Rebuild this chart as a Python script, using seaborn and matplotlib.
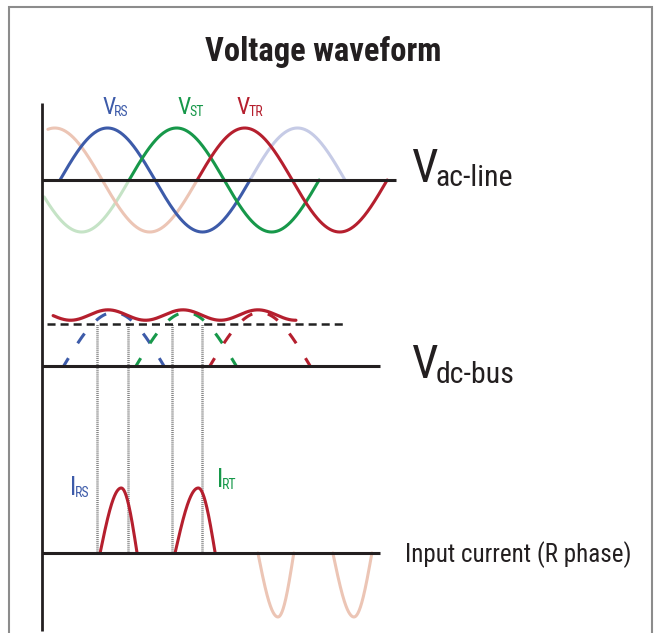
import numpy as np
import pandas as pd
import matplotlib.pyplot as plt
import seaborn as sns
from matplotlib import font_manager
from matplotlib.patches import Rectangle

# x is electrical angle in degrees, y is per-unit (1 pu = sine amplitude)
PHASES = ['RS', 'ST', 'TR']
phase_colors = ['#3d5ba9', '#17984a', '#b51f2e']
fade_colors = ['#c6cbe6', '#c5e3c6', '#ecc5b5']

# top panel: line voltages, rising zero crossing of the bold cycle
v_zero = [0, 131, 260]
# faded continuation of each wave
fade_from = [360, -30, -23]
fade_to = [540, 131, 260]

# middle panel: rectified dc bus
arc_center = [102, 239, 379]
arc_halfwidth = [95, 95, 95]
arc_height = 1.03
dc_ref_level = 0.81
dc_ref_span = [-25, 544]
ripple_span = [-13, 447]
ripple_mean = 0.98
ripple_amp = 0.10
ripple_period = 142
ripple_peak = 91

# bottom panel: R phase input current pulses
pulse_start = [76, 218, 375, 517]
pulse_peak = [116, 262, 413, 557]
pulse_end = [146, 294, 443, 591]
pulse_height = [1.25, 1.25, -1.23, -1.23]
pulse_faded = [False, False, True, True]
conduction_edges = [70, 129, 212, 269]

# panel baselines
panel_base = [0, -3.577, -7.173]
panel_end = [637, 606, 606]
axis_x = -34
axis_top, axis_bottom = 1.48, -8.67

INK = '#231f20'

available = {f.name for f in font_manager.fontManager.ttflist}
FONT = next((f for f in ['Liberation Sans Narrow', 'Roboto Condensed',
                         'Open Sans Condensed', 'Roboto'] if f in available),
            'DejaVu Sans')

sns.set_theme(style='white')
plt.rcParams['font.family'] = [FONT, 'DejaVu Sans']
plt.rcParams['lines.scale_dashes'] = False


def wave(zero, a, b, n=300):
    x = np.linspace(a, b, n)
    return pd.DataFrame({'angle': x, 'v': np.sin(np.radians(x - zero))})


def label(ax, x, y, main, sub, color, size, subsize, dx=-1, dy=0):
    t = ax.text(x, y, main, color=color, fontsize=size, ha='left', va='baseline')
    ax.annotate(sub, xy=(1, 0), xycoords=t, xytext=(dx, dy),
                textcoords='offset points', color=color, fontsize=subsize,
                ha='left', va='bottom')


fig = plt.figure(figsize=(6.56, 6.33), dpi=100)
ax = fig.add_axes([0, 0, 1, 1])
ax.set_xlim(-113.7, 1129.3)
ax.set_ylim(-8.7115, 3.4615)
ax.axis('off')

# --- top: ac line voltages
for i in range(3):
    df = wave(v_zero[i], fade_from[i], fade_to[i])
    sns.lineplot(data=df, x='angle', y='v', color=fade_colors[i], lw=2.2,
                 sort=False, estimator=None, ax=ax, zorder=1)
for i in range(3):
    df = wave(v_zero[i], v_zero[i], v_zero[i] + 360)
    sns.lineplot(data=df, x='angle', y='v', color=phase_colors[i], lw=2.2,
                 sort=False, estimator=None, ax=ax, zorder=2)

# --- middle: dc bus
base = panel_base[1]
for c, w, col in zip(arc_center, arc_halfwidth, phase_colors):
    for side in (1, -1):
        x = c + side * np.linspace(0, w, 150)
        y = base + arc_height * np.cos(np.pi / 2 * (x - c) / w)
        ax.plot(x, y, color=col, lw=2.2, solid_capstyle='butt',
                linestyle=(15.5, (8.6, 12.6)), zorder=2)

rx = np.linspace(ripple_span[0], ripple_span[1], 400)
ripple = pd.DataFrame({
    'angle': rx,
    'v': base + ripple_mean
    + ripple_amp * np.cos(2 * np.pi * (rx - ripple_peak) / ripple_period),
})
sns.lineplot(data=ripple, x='angle', y='v', color=phase_colors[2], lw=2.3,
             sort=False, estimator=None, ax=ax, zorder=3)

ax.plot(dc_ref_span, [base + dc_ref_level] * 2, color='#222222', lw=1.8,
        linestyle=(0, (5.8, 3.6)), zorder=2)

# conduction intervals
ax.vlines(conduction_edges, panel_base[2], base + dc_ref_level,
          colors='#808080', lw=1.8, linestyles=(0, (0.7, 0.7)), zorder=1)

# --- bottom: input current
base = panel_base[2]
for s, p, e, h, faded in zip(pulse_start, pulse_peak, pulse_end,
                             pulse_height, pulse_faded):
    xl = np.linspace(s, p, 80)
    xr = np.linspace(p, e, 80)
    u = np.concatenate([0.5 * (xl - s) / (p - s), 0.5 + 0.5 * (xr - p) / (e - p)])
    df = pd.DataFrame({'angle': np.concatenate([xl, xr]),
                       'v': base + h * np.sin(np.pi * u)})
    sns.lineplot(data=df, x='angle', y='v',
                 color=fade_colors[2] if faded else phase_colors[2],
                 lw=2.2, sort=False, estimator=None, ax=ax, zorder=2)

# baselines and vertical axis
for b, end in zip(panel_base, panel_end):
    ax.plot([axis_x, end], [b, b], color=INK, lw=2.2, solid_capstyle='butt', zorder=4)
ax.plot([axis_x, axis_x], [axis_top, axis_bottom], color=INK, lw=2.0,
        solid_capstyle='butt', zorder=4)

# labels
for x, name, col in zip([80, 222, 335], PHASES, phase_colors):
    label(ax, x, 1.27, 'V', name, col, 17, 10)
label(ax, 19, -6.06, 'I', 'RS', phase_colors[0], 18, 10)
label(ax, 297, -5.90, 'I', 'RT', phase_colors[1], 18, 10)

label(ax, 667, -0.04, 'V', 'ac-line', INK, 34, 21.5, dx=-2, dy=-1)
label(ax, 667, -3.81, 'V', 'dc-bus', INK, 34, 21.5, dx=-2, dy=-1)
ax.text(654, -7.346, 'Input current (R phase)', color=INK, fontsize=18,
        ha='left', va='baseline')

fig.text(323 / 656, 1 - 61 / 633, 'Voltage waveform', ha='center', va='baseline',
         fontsize=23.5, fontweight='bold', color=INK)

# outer frame
fig.patches.append(Rectangle((9 / 656, -0.05), 643 / 656, 626 / 633 + 0.05,
                             transform=fig.transFigure, fill=False,
                             ec='#8c8c8c', lw=1.5))

fig.savefig('out.png', dpi=100)
